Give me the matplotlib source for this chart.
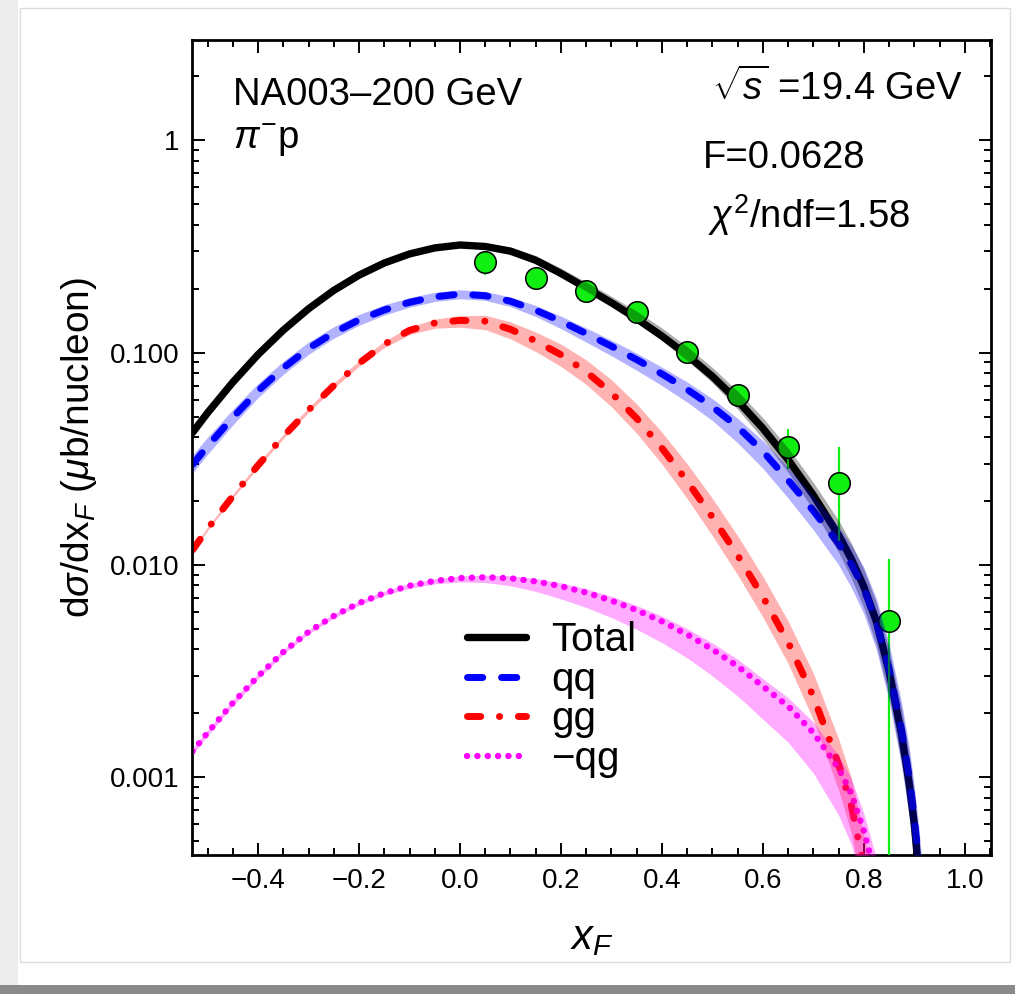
import numpy as np
import matplotlib.pyplot as plt
from matplotlib.patches import Rectangle
from matplotlib.ticker import MultipleLocator, FixedLocator, LogLocator, NullFormatter

plt.rcParams['font.family'] = ['Liberation Sans', 'DejaVu Sans']
plt.rcParams['mathtext.fontset'] = 'custom'
plt.rcParams['mathtext.rm'] = 'Liberation Sans'
plt.rcParams['mathtext.it'] = 'Liberation Sans:italic'
plt.rcParams['mathtext.bf'] = 'Liberation Sans:bold'

# NA003 pi- p data, 200 GeV
x_data = [0.05, 0.15, 0.25, 0.35, 0.45, 0.55, 0.65, 0.75, 0.85]
y_data = [0.266, 0.225, 0.195, 0.156, 0.1007, 0.0634, 0.0360, 0.0244, 0.00546]
y_err = [0.035, 0.028, 0.022, 0.016, 0.010, 0.006, 0.0077, 0.0115, 0.0052]

# model curves
x_full = [-0.53, -0.5, -0.45, -0.4, -0.35, -0.3, -0.25, -0.2, -0.15, -0.1, -0.05,
          0.0, 0.05, 0.1, 0.15, 0.2, 0.25, 0.3,
          0.35, 0.4, 0.45, 0.5, 0.55, 0.6, 0.65, 0.7,
          0.75, 0.775, 0.8, 0.825, 0.85, 0.875, 0.89, 0.9, 0.91, 0.92]
total = [0.042, 0.0521, 0.0726, 0.098, 0.1277, 0.161, 0.1965, 0.2317, 0.2644, 0.2917, 0.3114,
         0.3214, 0.3162, 0.3006, 0.2723, 0.236, 0.2018, 0.1718,
         0.1445, 0.1197, 0.0973, 0.0773, 0.0593, 0.044, 0.0313, 0.0213,
         0.0138, 0.0107, 0.0079, 0.0054, 0.00316, 0.00158, 0.00093, 0.0006, 0.00033, 0.00016]
qq = [0.0297, 0.0363, 0.0495, 0.0661, 0.0847, 0.1047, 0.1242, 0.1426, 0.1589, 0.1726, 0.1832,
      0.1888, 0.1854, 0.1746, 0.1585, 0.1406, 0.123, 0.1072,
      0.0927, 0.0794, 0.0671, 0.0556, 0.0447, 0.0343, 0.0251, 0.018,
      0.0126, 0.0101, 0.00776, 0.00537, 0.00324, 0.00166, 0.0010, 0.000646, 0.000372, 0.000178]

x_short = [-0.53, -0.5, -0.45, -0.4, -0.35, -0.3, -0.25, -0.2, -0.15, -0.1, -0.05,
           0.0, 0.05, 0.1, 0.15, 0.2, 0.25, 0.3,
           0.35, 0.4, 0.45, 0.5, 0.55, 0.6, 0.65, 0.7,
           0.75, 0.775, 0.8, 0.825]
gg = [0.01175, 0.0148, 0.0211, 0.0295, 0.0403, 0.0537, 0.070, 0.0891, 0.1096, 0.1274, 0.138,
      0.1419, 0.1406, 0.1288, 0.1135, 0.0977, 0.0813, 0.0646,
      0.049, 0.0355, 0.0248, 0.0168, 0.0111, 0.00708, 0.00432, 0.0024,
      0.00115, 0.00074, 0.00038, 0.00018]
qg = [0.001324, 0.00162, 0.00224, 0.00299, 0.00389, 0.00484, 0.00575, 0.00661, 0.00736, 0.00798, 0.00841,
      0.00867, 0.00875, 0.00865, 0.00836, 0.00794, 0.00741, 0.00679,
      0.00612, 0.00542, 0.0047, 0.004, 0.00333, 0.00268, 0.00216, 0.00162,
      0.0011, 0.00084, 0.00056, 0.00033]

# uncertainty bands, widths in decades above / below each curve
total_up = [0.015] * 11 + [0.015, 0.018, 0.02, 0.022, 0.025, 0.028, 0.03,
                           0.035, 0.038, 0.04, 0.042, 0.045, 0.05, 0.055, 0.06,
                           0.07, 0.075, 0.08, 0.09, 0.1, 0.12, 0.14, 0.15, 0.18, 0.2]
total_dn = [0.01] * 11 + [0.01, 0.01, 0.012, 0.012, 0.014, 0.015, 0.016,
                          0.018, 0.02, 0.025, 0.03, 0.04, 0.05, 0.06, 0.07,
                          0.08, 0.09, 0.1, 0.11, 0.12, 0.13, 0.14, 0.15, 0.17, 0.2]
qq_up = [0.045, 0.042, 0.038, 0.035, 0.032, 0.03, 0.028, 0.026, 0.024, 0.022, 0.021,
         0.02, 0.02, 0.02, 0.022, 0.024, 0.026, 0.028,
         0.03, 0.032, 0.035, 0.038, 0.04, 0.05, 0.06, 0.07,
         0.08, 0.09, 0.1, 0.11, 0.12, 0.13, 0.14, 0.15, 0.17, 0.2]
qq_dn = [0.04, 0.038, 0.035, 0.032, 0.03, 0.028, 0.026, 0.025, 0.024, 0.023, 0.022,
         0.022, 0.022, 0.025, 0.03, 0.035, 0.04, 0.045,
         0.05, 0.055, 0.06, 0.065, 0.075, 0.08, 0.085, 0.09,
         0.1, 0.11, 0.12, 0.13, 0.15, 0.17, 0.19, 0.2, 0.22, 0.25]
gg_up = [0.008, 0.008, 0.009, 0.01, 0.01, 0.011, 0.012, 0.013, 0.014, 0.016, 0.018,
         0.022, 0.028, 0.035, 0.042, 0.05, 0.056, 0.062,
         0.068, 0.075, 0.082, 0.088, 0.092, 0.096, 0.1, 0.11,
         0.12, 0.13, 0.15, 0.17]
gg_dn = [0.008, 0.008, 0.009, 0.01, 0.01, 0.011, 0.012, 0.014, 0.016, 0.02, 0.025,
         0.032, 0.04, 0.045, 0.05, 0.055, 0.06, 0.065,
         0.07, 0.075, 0.082, 0.088, 0.092, 0.096, 0.1, 0.11,
         0.12, 0.13, 0.15, 0.17]
qg_up = [0.015, 0.014, 0.013, 0.012, 0.011, 0.01, 0.01, 0.01, 0.01, 0.01, 0.01,
         0.01, 0.01, 0.012, 0.014, 0.016, 0.018, 0.02,
         0.022, 0.025, 0.028, 0.03, 0.033, 0.036, 0.04, 0.05,
         0.06, 0.07, 0.08, 0.1]
qg_dn = [0.015, 0.014, 0.013, 0.012, 0.011, 0.01, 0.01, 0.01, 0.01, 0.012, 0.014,
         0.018, 0.025, 0.035, 0.047, 0.06, 0.07, 0.08,
         0.09, 0.1, 0.11, 0.125, 0.14, 0.155, 0.17, 0.19,
         0.22, 0.24, 0.27, 0.3]

x_ticks = [-0.4, -0.2, 0.0, 0.2, 0.4, 0.6, 0.8, 1.0]
y_ticks = [0.001, 0.01, 0.1, 1]
y_ticklabels = ['0.001', '0.010', '0.100', '1']

fig = plt.figure(figsize=(10.15, 9.94), dpi=100)

# card outline and drop shadow round the plot
fig.patches.append(Rectangle((0, 0), 18 / 1015, 1, transform=fig.transFigure,
                             color='#ececec', lw=0, zorder=-5))
fig.patches.append(Rectangle((0, 0), 1, 9 / 994, transform=fig.transFigure,
                             color='#8a8a8a', lw=0, zorder=-5))
fig.patches.append(Rectangle((20 / 1015, 32 / 994), 990 / 1015, 954 / 994,
                             transform=fig.transFigure, fill=False,
                             ec='#dcdcdc', lw=1, zorder=-4))

ax = fig.add_axes([192 / 1015, 1 - 855 / 994, 799 / 1015, 815 / 994])
ax.set_yscale('log')
ax.set_xlim(-0.531, 1.052)
ax.set_ylim(4.3e-4, 2.97)


def band(x, c, up, dn, color, alpha):
    c = np.asarray(c)
    ax.fill_between(x, c * 10 ** (-np.asarray(dn)), c * 10 ** np.asarray(up),
                    color=color, alpha=alpha, lw=0, zorder=4)


ax.plot(x_full, total, color='black', lw=5.3, solid_capstyle='round', zorder=2, label='Total')
ax.plot(x_full, qq, color='#0000ff', lw=5, dashes=(2.2, 2.7), dash_capstyle='round',
        zorder=2, label='qq')
ax.plot(x_short, gg, color='#ff0000', lw=5, dashes=(1.9, 2.7, 0.02, 2.7),
        dash_capstyle='round', zorder=2, label='gg')
ax.plot(x_short, qg, color='#ff00ff', lw=4.6, dashes=(0.02, 1.6),
        dash_capstyle='round', zorder=2, label='\u2212qg')

ax.errorbar(x_data, y_data, yerr=y_err, fmt='none', ecolor='#11ee11', elinewidth=1.6,
            capsize=0, zorder=3)
ax.plot(x_data, y_data, 'o', ms=15.5, mfc='#11ee11', mec='black', mew=1.1, zorder=3.5)

band(x_full, total, total_up, total_dn, 'black', 0.32)
band(x_full, qq, qq_up, qq_dn, '#0000ff', 0.3)
band(x_short, gg, gg_up, gg_dn, '#ff0000', 0.3)
band(x_short, qg, qg_up, qg_dn, '#ff00ff', 0.33)

ax.xaxis.set_major_locator(FixedLocator(x_ticks))
ax.xaxis.set_minor_locator(MultipleLocator(0.05))
ax.set_xticklabels(['\u22120.4', '\u22120.2', '0.0', '0.2', '0.4', '0.6', '0.8', '1.0'])
ax.set_yticks(y_ticks)
ax.set_yticklabels(y_ticklabels)
ax.yaxis.set_minor_locator(LogLocator(base=10, subs=np.arange(2, 10)))
ax.yaxis.set_minor_formatter(NullFormatter())
ax.tick_params(which='both', direction='in', top=True, right=True, labelsize=20,
               width=1.4, pad=9)
ax.tick_params(which='major', length=9)
ax.tick_params(which='minor', length=5)
for s in ax.spines.values():
    s.set_linewidth(2)

ax.set_xlabel(r'$x_F$', fontsize=30, labelpad=18)
ax.set_ylabel(r'd$\sigma$/dx$_F$ ($\mu$b/nucleon)', fontsize=28, labelpad=8)

tkw = dict(transform=ax.transAxes, fontsize=27.5, va='baseline', ha='left')
ax.text(0.051, 0.920, 'NA003\u2013200 GeV', **tkw)
ax.text(0.051, 0.867, r'$\pi^{-}$p', **tkw)
ax.text(0.651, 0.926, r'$\sqrt{s}$ =19.4 GeV', **tkw)
ax.text(0.640, 0.843, 'F=0.0628', **tkw)
ax.text(0.646, 0.769, r'$\chi^2$/ndf=1.58', **tkw)

ax.legend(loc='upper left', bbox_to_anchor=(0.344, 0.287), frameon=False,
          fontsize=29, handlelength=1.47, handletextpad=0.62, labelspacing=0.04,
          borderpad=0, borderaxespad=0)

fig.savefig('out.png', dpi=100, facecolor='white')
